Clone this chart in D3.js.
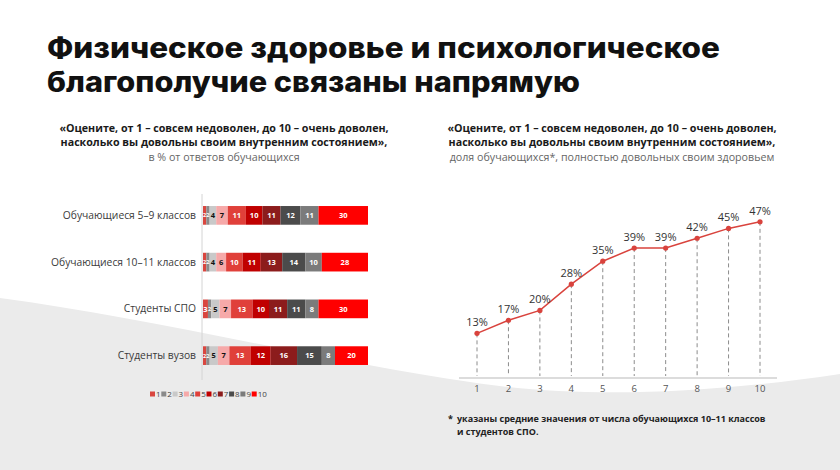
<!DOCTYPE html>
<html>
<head>
<meta charset="utf-8">
<script src="https://cdn.jsdelivr.net/npm/d3@7"></script>
<style>
  body { margin: 0; background: #fff; }
  svg { display: block; font-family: 'Open Sans', sans-serif; }
</style>
</head>
<body>
<svg width="840" height="470"></svg>
<script>
// left chart: distribution of answers 1..10 by group
var groups = ['Обучающиеся 5–9 классов', 'Обучающиеся 10–11 классов', 'Студенты СПО', 'Студенты вузов'];
var grades = ['1', '2', '3', '4', '5', '6', '7', '8', '9', '10'];
var shares = [
  [2, 2, 4, 7, 11, 10, 11, 12, 11, 30],
  [2, 2, 4, 6, 10, 11, 13, 14, 10, 28],
  [3, 2, 5, 7, 13, 10, 11, 11, 8, 30],
  [2, 2, 5, 7, 13, 12, 16, 15, 8, 20]
];
var gradeColors = ['#d9463f', '#8a8a8a', '#c9c9c9', '#f6a9a9', '#e0403a', '#c00000', '#8c1c1c', '#4b4b4b', '#7b7b7b', '#ff0000'];
var darkText = ['3', '4'];

// right chart: share fully satisfied with health, by inner-state score
var scores = [1, 2, 3, 4, 5, 6, 7, 8, 9, 10];
var healthy = [13, 17, 20, 28, 35, 39, 39, 42, 45, 47];

var svg = d3.select('svg'),
    w = +svg.attr('width'),
    h = +svg.attr('height');

// background wave
svg.append('path')
    .attr('d', 'M0,298 C150,318 330,362 470,382 C560,396 680,398 840,374 L840,470 L0,470 Z')
    .attr('fill', '#ebebeb');

// title
var title = svg.append('g').attr('class', 'title');
title.append('text')
    .attr('x', 47).attr('y', 58)
    .attr('textLength', 673).attr('lengthAdjust', 'spacingAndGlyphs')
    .style('font-family', 'Inter, sans-serif')
    .style('font-weight', 800).style('font-size', '28px').attr('fill', '#111')
    .text('Физическое здоровье и психологическое');
title.append('text')
    .attr('x', 47).attr('y', 92)
    .attr('textLength', 533).attr('lengthAdjust', 'spacingAndGlyphs')
    .style('font-family', 'Inter, sans-serif')
    .style('font-weight', 800).style('font-size', '28px').attr('fill', '#111')
    .text('благополучие связаны напрямую');

function subtitle(cx, lines, note) {
  var g = svg.append('g').attr('text-anchor', 'middle');
  lines.forEach(function(t, i) {
    g.append('text')
        .attr('x', cx).attr('y', 132 + i * 14)
        .style('font-weight', 700).style('font-size', '10.7px').attr('fill', '#1a1a1a')
        .text(t);
  });
  g.append('text')
      .attr('x', cx).attr('y', 160.5)
      .style('font-size', '10.7px').attr('fill', '#666')
      .text(note);
}

subtitle(224, ['«Оцените, от 1 – совсем недоволен, до 10 – очень доволен,',
               'насколько вы довольны своим внутренним состоянием»,'],
         'в % от ответов обучающихся');
subtitle(612, ['«Оцените, от 1 – совсем недоволен, до 10 – очень доволен,',
               'насколько вы довольны своим внутренним состоянием»,'],
         'доля обучающихся*, полностью довольных своим здоровьем');

// ---- stacked bars
var x = d3.scaleLinear().domain([0, 100]).range([203, 368]),
    y = d3.scaleBand().domain(groups).range([192, 379]).paddingInner(0.6).paddingOuter(0.3),
    color = d3.scaleOrdinal().domain(grades).range(gradeColors);

var rows = shares.map(function(vals, i) {
  var acc = 0;
  return vals.map(function(v, j) {
    var seg = { group: groups[i], grade: grades[j], value: v, x0: acc, x1: acc + v };
    acc += v;
    return seg;
  });
});

svg.append('line')
    .attr('x1', 202).attr('x2', 202)
    .attr('y1', 194).attr('y2', 380)
    .attr('stroke', '#d4d4d4');

var bars = svg.append('g').attr('class', 'bars');

var row = bars.selectAll('g.row')
    .data(rows)
    .enter()
    .append('g')
    .attr('class', 'row');

row.selectAll('rect')
    .data(function(d) { return d; })
    .enter()
    .append('rect')
    .attr('x', function(d) { return x(d.x0); })
    .attr('y', function(d) { return y(d.group); })
    .attr('width', function(d) { return x(d.x1) - x(d.x0); })
    .attr('height', y.bandwidth())
    .attr('fill', function(d) { return color(d.grade); });

row.selectAll('text')
    .data(function(d) { return d; })
    .enter()
    .append('text')
    .attr('x', function(d) { return (x(d.x0) + x(d.x1)) / 2; })
    .attr('y', function(d) { return y(d.group) + y.bandwidth() / 2; })
    .attr('dy', '0.35em')
    .attr('text-anchor', 'middle')
    .style('font-weight', 700)
    .style('font-size', function(d) { return d.value < 3 ? '5.5px' : '7.5px'; })
    .attr('fill', function(d) { return darkText.indexOf(d.grade) > -1 ? '#111' : '#fff'; })
    .text(function(d) { return d.value; });

// group labels
svg.append('g')
    .attr('text-anchor', 'end')
    .selectAll('text')
    .data(groups)
    .enter()
    .append('text')
    .attr('x', 196)
    .attr('y', function(d) { return y(d) + y.bandwidth() / 2; })
    .attr('dy', '0.35em')
    .style('font-size', '10.3px')
    .attr('fill', '#3a3a3a')
    .text(function(d) { return d; });

// legend
var legend = svg.append('g').attr('class', 'legend')
    .selectAll('g')
    .data(grades)
    .enter()
    .append('g')
    .attr('transform', function(d, i) { return 'translate(' + (150 + i * 11.3) + ',394)'; });

legend.append('rect')
    .attr('x', 0).attr('y', -2.5)
    .attr('width', 5).attr('height', 5)
    .attr('fill', function(d) { return color(d); });

legend.append('text')
    .attr('x', 6).attr('dy', '0.35em')
    .style('font-size', '8px')
    .attr('fill', '#444')
    .text(function(d) { return d; });

// ---- line chart
var lx = d3.scaleLinear().domain([1, 10]).range([477, 760]),
    ly = d3.scaleLinear().domain([0, 50]).range([376, 212]);

var pts = scores.map(function(s, i) { return { s: s, v: healthy[i] }; });

var lc = svg.append('g').attr('class', 'line-chart');

lc.selectAll('line.drop')
    .data(pts)
    .enter()
    .append('line')
    .attr('class', 'drop')
    .attr('x1', function(d) { return lx(d.s); })
    .attr('x2', function(d) { return lx(d.s); })
    .attr('y1', function(d) { return ly(d.v); })
    .attr('y2', ly(0))
    .attr('stroke', '#8c8c8c')
    .attr('stroke-dasharray', '4,3');

lc.append('line')
    .attr('x1', 459).attr('x2', 777)
    .attr('y1', 378).attr('y2', 378)
    .attr('stroke', '#d0d0d0')
    .attr('stroke-width', 1.5);

lc.append('path')
    .datum(pts)
    .attr('d', d3.line().x(function(d) { return lx(d.s); }).y(function(d) { return ly(d.v); }))
    .attr('fill', 'none')
    .attr('stroke', '#d9433d')
    .attr('stroke-width', 1.5);

lc.selectAll('circle')
    .data(pts)
    .enter()
    .append('circle')
    .attr('cx', function(d) { return lx(d.s); })
    .attr('cy', function(d) { return ly(d.v); })
    .attr('r', 2.6)
    .attr('fill', '#d9433d');

lc.selectAll('text.val')
    .data(pts)
    .enter()
    .append('text')
    .attr('class', 'val')
    .attr('x', function(d) { return lx(d.s); })
    .attr('y', function(d) { return ly(d.v) - 7; })
    .attr('text-anchor', 'middle')
    .style('font-size', '11px')
    .attr('fill', '#333')
    .text(function(d) { return d.v + '%'; });

lc.selectAll('text.tick')
    .data(scores)
    .enter()
    .append('text')
    .attr('class', 'tick')
    .attr('x', function(d) { return lx(d); })
    .attr('y', 392)
    .attr('text-anchor', 'middle')
    .style('font-size', '9.5px')
    .attr('fill', '#555')
    .text(function(d) { return d; });

// footnote
var foot = svg.append('g').style('font-weight', 700).style('font-size', '9px').attr('fill', '#222');
foot.append('text').attr('x', 448).attr('y', 422).text('*');
foot.append('text').attr('x', 457).attr('y', 422).text('указаны средние значения от числа обучающихся 10–11 классов');
foot.append('text').attr('x', 457).attr('y', 435).text('и студентов СПО.');
</script>
</body>
</html>
